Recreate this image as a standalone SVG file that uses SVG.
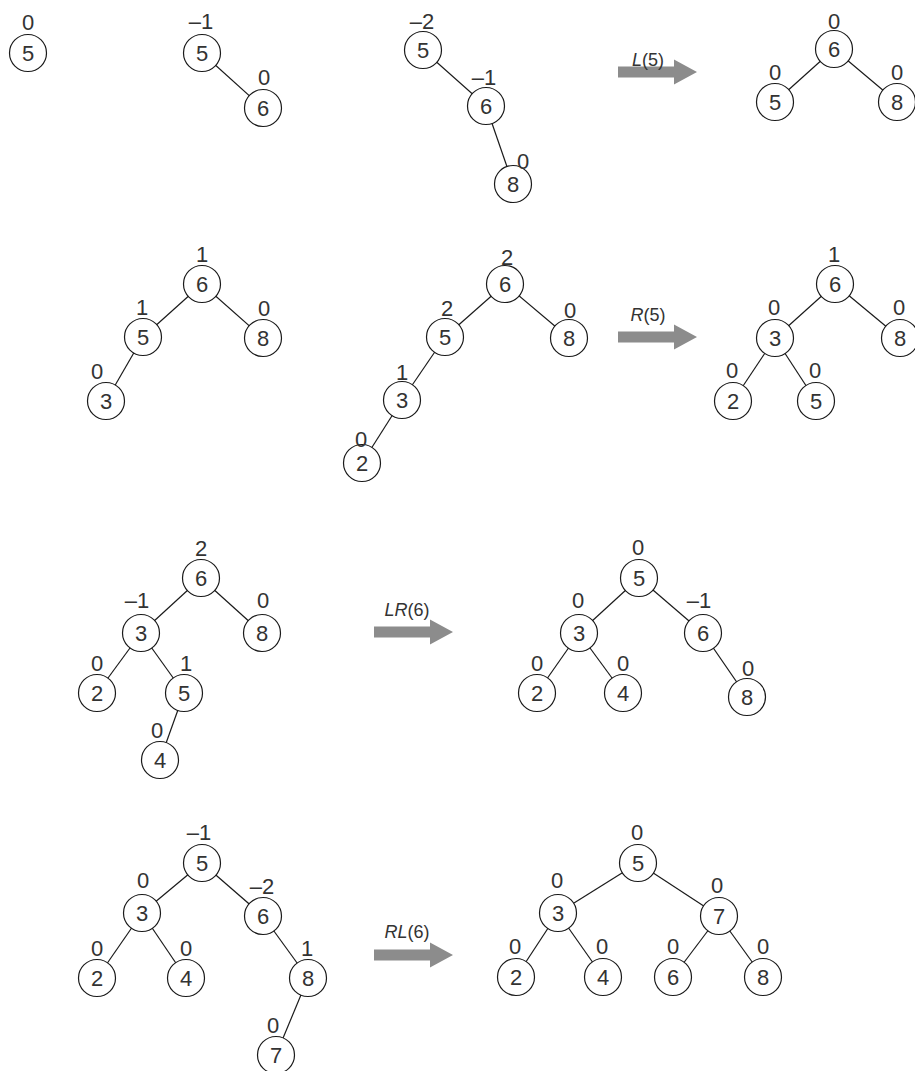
<svg xmlns="http://www.w3.org/2000/svg" width="915" height="1071" viewBox="0 0 915 1071">
<style>
.n circle{fill:#fff;stroke:#1a1a1a;stroke-width:1.2}
.n text{font-family:"Liberation Sans",Arial,sans-serif;font-size:22px;fill:#333;text-anchor:middle}
.e line{stroke:#1a1a1a;stroke-width:1.2}
.arr{fill:#8c8c8c}
.al{font-family:"Liberation Sans",Arial,sans-serif;font-size:18px;fill:#333;text-anchor:middle}
.al tspan.i{font-style:italic}
</style>
<defs>
<path id="arrow" d="M0,-5.5 H56 V-12.5 L79,0 L56,12.5 V5.5 H0 Z"/>
</defs>
<rect width="915" height="1071" fill="#fff"/>

<g id="connectors" class="e">
<line x1="202" y1="53" x2="263" y2="108"/>
<line x1="423" y1="50" x2="486" y2="106"/>
<line x1="486" y1="106" x2="513" y2="184"/>
<line x1="834" y1="49" x2="775" y2="102"/>
<line x1="834" y1="49" x2="897" y2="102"/>

<line x1="202" y1="284" x2="143" y2="337"/>
<line x1="202" y1="284" x2="263" y2="338"/>
<line x1="143" y1="337" x2="106" y2="401"/>
<line x1="505" y1="284" x2="445" y2="337"/>
<line x1="505" y1="284" x2="569" y2="338"/>
<line x1="445" y1="337" x2="402" y2="400"/>
<line x1="402" y1="400" x2="362" y2="463"/>
<line x1="835" y1="284" x2="775" y2="338"/>
<line x1="835" y1="284" x2="900" y2="338"/>
<line x1="775" y1="338" x2="733" y2="401"/>
<line x1="775" y1="338" x2="816" y2="401"/>

<line x1="201" y1="578" x2="141" y2="633"/>
<line x1="201" y1="578" x2="262" y2="633"/>
<line x1="141" y1="633" x2="97" y2="693"/>
<line x1="141" y1="633" x2="184" y2="693"/>
<line x1="184" y1="693" x2="160" y2="760"/>
<line x1="639" y1="578" x2="579" y2="633"/>
<line x1="639" y1="578" x2="703" y2="633"/>
<line x1="579" y1="633" x2="537" y2="693"/>
<line x1="579" y1="633" x2="623" y2="693"/>
<line x1="703" y1="633" x2="747" y2="697"/>

<line x1="202" y1="863" x2="142" y2="913"/>
<line x1="202" y1="863" x2="263" y2="916"/>
<line x1="142" y1="913" x2="97" y2="978"/>
<line x1="142" y1="913" x2="186" y2="978"/>
<line x1="263" y1="916" x2="308" y2="978"/>
<line x1="308" y1="978" x2="276" y2="1055"/>
<line x1="638" y1="863" x2="558" y2="913"/>
<line x1="638" y1="863" x2="719" y2="916"/>
<line x1="558" y1="913" x2="516" y2="977"/>
<line x1="558" y1="913" x2="603" y2="977"/>
<line x1="719" y1="916" x2="673" y2="977"/>
<line x1="719" y1="916" x2="763" y2="977"/>
</g>

<g id="arrows">
<use href="#arrow" class="arr" x="618" y="72"/>
<use href="#arrow" class="arr" x="618" y="337"/>
<use href="#arrow" class="arr" x="374" y="632"/>
<use href="#arrow" class="arr" x="374" y="955"/>
<text class="al" x="648" y="66"><tspan class="i">L</tspan>(5)</text>
<text class="al" x="648" y="321"><tspan class="i">R</tspan>(5)</text>
<text class="al" x="407" y="616"><tspan class="i">LR</tspan>(6)</text>
<text class="al" x="407" y="938"><tspan class="i">RL</tspan>(6)</text>
</g>

<!-- Tree A -->
<g id="a5" class="n"><circle cx="28" cy="53" r="18.5"/><text x="28" y="61">5</text><text x="28" y="30">0</text></g>
<!-- Tree B -->
<g id="b5" class="n"><circle cx="202" cy="53" r="18.5"/><text x="202" y="61">5</text><text x="201" y="29">–1</text></g>
<g id="b6" class="n"><circle cx="263" cy="108" r="18.5"/><text x="263" y="116">6</text><text x="264" y="85">0</text></g>
<!-- Tree C -->
<g id="c5" class="n"><circle cx="423" cy="50" r="18.5"/><text x="423" y="58">5</text><text x="422" y="29">–2</text></g>
<g id="c6" class="n"><circle cx="486" cy="106" r="18.5"/><text x="486" y="114">6</text><text x="484" y="85">–1</text></g>
<g id="c8" class="n"><circle cx="513" cy="184" r="18.5"/><text x="513" y="192">8</text><text x="523" y="169">0</text></g>
<!-- Tree D -->
<g id="d6" class="n"><circle cx="834" cy="49" r="18.5"/><text x="834" y="57">6</text><text x="834" y="29">0</text></g>
<g id="d5" class="n"><circle cx="775" cy="102" r="18.5"/><text x="775" y="110">5</text><text x="775" y="80">0</text></g>
<g id="d8" class="n"><circle cx="897" cy="102" r="18.5"/><text x="897" y="110">8</text><text x="897" y="80">0</text></g>

<!-- Tree E -->
<g id="e6" class="n"><circle cx="202" cy="284" r="18.5"/><text x="202" y="292">6</text><text x="202" y="262">1</text></g>
<g id="e5" class="n"><circle cx="143" cy="337" r="18.5"/><text x="143" y="345">5</text><text x="142" y="315">1</text></g>
<g id="e8" class="n"><circle cx="263" cy="338" r="18.5"/><text x="263" y="346">8</text><text x="264" y="316">0</text></g>
<g id="e3" class="n"><circle cx="106" cy="401" r="18.5"/><text x="106" y="409">3</text><text x="97" y="379">0</text></g>
<!-- Tree F -->
<g id="f6" class="n"><circle cx="505" cy="284" r="18.5"/><text x="505" y="292">6</text><text x="507" y="265">2</text></g>
<g id="f5" class="n"><circle cx="445" cy="337" r="18.5"/><text x="445" y="345">5</text><text x="447" y="316">2</text></g>
<g id="f8" class="n"><circle cx="569" cy="338" r="18.5"/><text x="569" y="346">8</text><text x="570" y="318">0</text></g>
<g id="f3" class="n"><circle cx="402" cy="400" r="18.5"/><text x="402" y="408">3</text><text x="402" y="380">1</text></g>
<g id="f2" class="n"><circle cx="362" cy="463" r="18.5"/><text x="362" y="471">2</text><text x="361" y="447">0</text></g>
<!-- Tree G -->
<g id="g6" class="n"><circle cx="835" cy="284" r="18.5"/><text x="835" y="292">6</text><text x="834" y="262">1</text></g>
<g id="g3" class="n"><circle cx="775" cy="338" r="18.5"/><text x="775" y="346">3</text><text x="774" y="315">0</text></g>
<g id="g8" class="n"><circle cx="900" cy="338" r="18.5"/><text x="900" y="346">8</text><text x="899" y="315">0</text></g>
<g id="g2" class="n"><circle cx="733" cy="401" r="18.5"/><text x="733" y="409">2</text><text x="732" y="378">0</text></g>
<g id="g5" class="n"><circle cx="816" cy="401" r="18.5"/><text x="816" y="409">5</text><text x="815" y="378">0</text></g>

<!-- Tree H -->
<g id="h6" class="n"><circle cx="201" cy="578" r="18.5"/><text x="201" y="586">6</text><text x="201" y="556">2</text></g>
<g id="h3" class="n"><circle cx="141" cy="633" r="18.5"/><text x="141" y="641">3</text><text x="137" y="608">–1</text></g>
<g id="h8" class="n"><circle cx="262" cy="633" r="18.5"/><text x="262" y="641">8</text><text x="263" y="608">0</text></g>
<g id="h2" class="n"><circle cx="97" cy="693" r="18.5"/><text x="97" y="701">2</text><text x="97" y="671">0</text></g>
<g id="h5" class="n"><circle cx="184" cy="693" r="18.5"/><text x="184" y="701">5</text><text x="186" y="671">1</text></g>
<g id="h4" class="n"><circle cx="160" cy="760" r="18.5"/><text x="160" y="768">4</text><text x="157" y="738">0</text></g>
<!-- Tree I -->
<g id="i5" class="n"><circle cx="639" cy="578" r="18.5"/><text x="639" y="586">5</text><text x="638" y="555">0</text></g>
<g id="i3" class="n"><circle cx="579" cy="633" r="18.5"/><text x="579" y="641">3</text><text x="578" y="608">0</text></g>
<g id="i6" class="n"><circle cx="703" cy="633" r="18.5"/><text x="703" y="641">6</text><text x="699" y="608">–1</text></g>
<g id="i2" class="n"><circle cx="537" cy="693" r="18.5"/><text x="537" y="701">2</text><text x="537" y="671">0</text></g>
<g id="i4" class="n"><circle cx="623" cy="693" r="18.5"/><text x="623" y="701">4</text><text x="623" y="671">0</text></g>
<g id="i8" class="n"><circle cx="747" cy="697" r="18.5"/><text x="747" y="705">8</text><text x="748" y="676">0</text></g>

<!-- Tree J -->
<g id="j5" class="n"><circle cx="202" cy="863" r="18.5"/><text x="202" y="871">5</text><text x="199" y="840">–1</text></g>
<g id="j3" class="n"><circle cx="142" cy="913" r="18.5"/><text x="142" y="921">3</text><text x="143" y="888">0</text></g>
<g id="j6" class="n"><circle cx="263" cy="916" r="18.5"/><text x="263" y="924">6</text><text x="262" y="894">–2</text></g>
<g id="j2" class="n"><circle cx="97" cy="978" r="18.5"/><text x="97" y="986">2</text><text x="97" y="956">0</text></g>
<g id="j4" class="n"><circle cx="186" cy="978" r="18.5"/><text x="186" y="986">4</text><text x="186" y="956">0</text></g>
<g id="j8" class="n"><circle cx="308" cy="978" r="18.5"/><text x="308" y="986">8</text><text x="307" y="956">1</text></g>
<g id="j7" class="n"><circle cx="276" cy="1055" r="18.5"/><text x="276" y="1063">7</text><text x="273" y="1033">0</text></g>
<!-- Tree K -->
<g id="k5" class="n"><circle cx="638" cy="863" r="18.5"/><text x="638" y="871">5</text><text x="637" y="840">0</text></g>
<g id="k3" class="n"><circle cx="558" cy="913" r="18.5"/><text x="558" y="921">3</text><text x="557" y="888">0</text></g>
<g id="k7" class="n"><circle cx="719" cy="916" r="18.5"/><text x="719" y="924">7</text><text x="717" y="893">0</text></g>
<g id="k2" class="n"><circle cx="516" cy="977" r="18.5"/><text x="516" y="985">2</text><text x="515" y="954">0</text></g>
<g id="k4" class="n"><circle cx="603" cy="977" r="18.5"/><text x="603" y="985">4</text><text x="602" y="954">0</text></g>
<g id="k6" class="n"><circle cx="673" cy="977" r="18.5"/><text x="673" y="985">6</text><text x="673" y="954">0</text></g>
<g id="k8" class="n"><circle cx="763" cy="977" r="18.5"/><text x="763" y="985">8</text><text x="763" y="954">0</text></g>
</svg>
